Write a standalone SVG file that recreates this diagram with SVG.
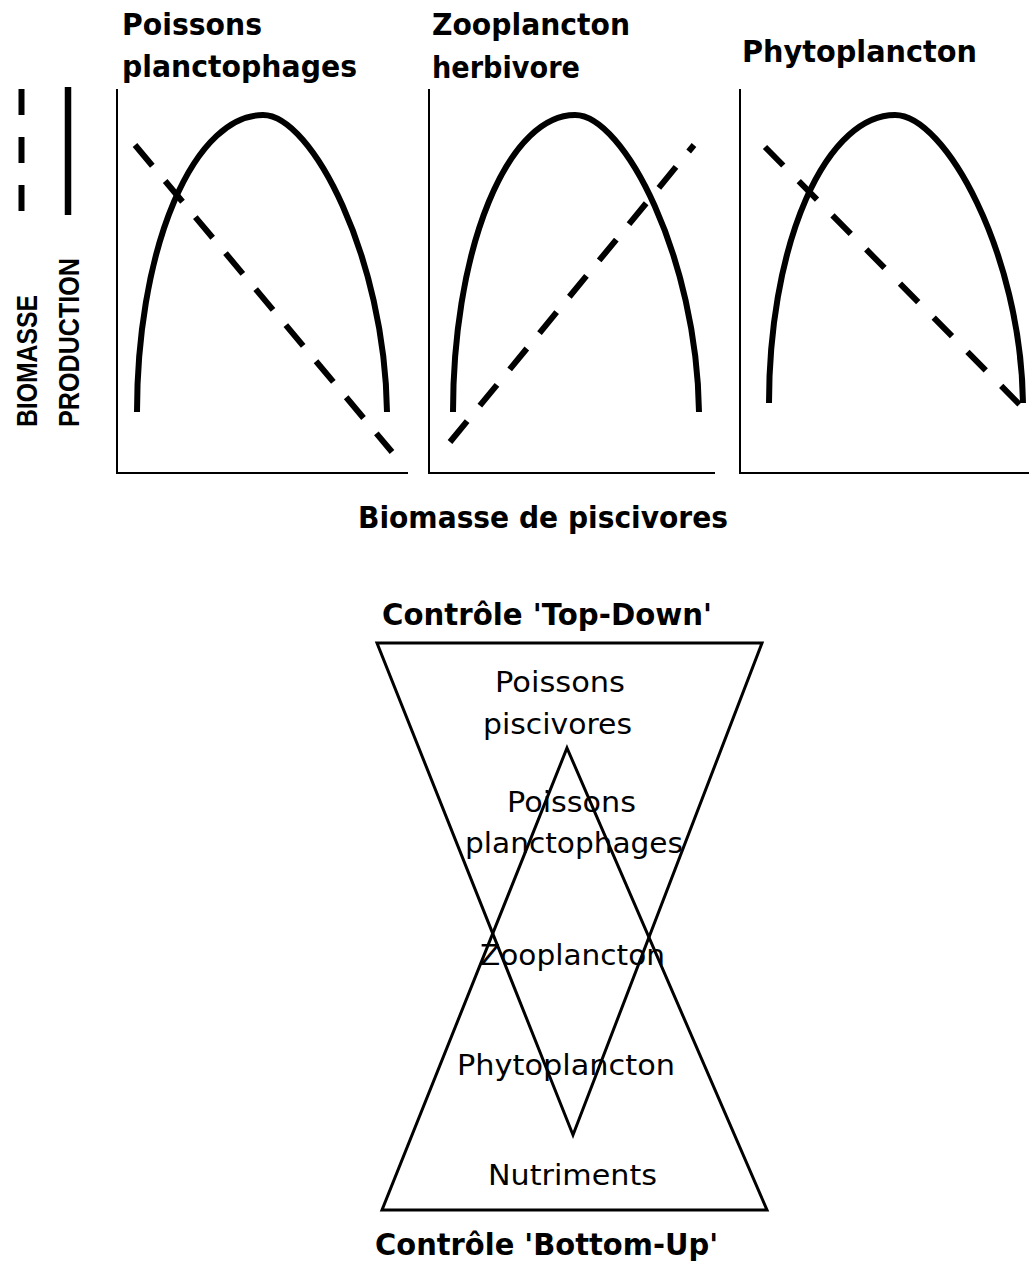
<svg xmlns="http://www.w3.org/2000/svg" width="1029" height="1264" viewBox="0 0 1029 1264">
  <style>
    .title { font-family: "DejaVu Sans", "Liberation Sans", sans-serif; font-weight: bold; font-size: 30.5px; fill: #000; }
    .axislbl { font-family: "Liberation Sans", "DejaVu Sans", sans-serif; font-weight: bold; font-size: 30px; fill: #000; }
    .level { font-family: "DejaVu Sans", "Liberation Sans", sans-serif; font-size: 29px; fill: #000; }
    .axis { fill: none; stroke: #000; stroke-width: 2; }
    .prod { fill: none; stroke: #000; stroke-width: 6; stroke-linecap: butt; }
    .bio { fill: none; stroke: #000; stroke-width: 6; stroke-dasharray: 27 20; }
    .tri { fill: none; stroke: #000; stroke-width: 3; stroke-linejoin: miter; }
  </style>
  <rect width="1029" height="1264" fill="#fff"/>

  <!-- legend: dashed = biomass, solid = production -->
  <g id="legend">
    <line x1="21.5" y1="89" x2="21.5" y2="211" stroke="#000" stroke-width="6" stroke-dasharray="26 22"/>
    <line x1="68" y1="87" x2="68" y2="215" stroke="#000" stroke-width="6.5"/>
    <text class="axislbl" transform="translate(37,427) rotate(-90)" textLength="132" lengthAdjust="spacingAndGlyphs">BIOMASSE</text>
    <text class="axislbl" transform="translate(79,427) rotate(-90)" textLength="169" lengthAdjust="spacingAndGlyphs">PRODUCTION</text>
  </g>

  <!-- panel 1: planktivorous fish -->
  <g id="panel-planctophages">
    <text class="title" x="122" y="35" textLength="140" lengthAdjust="spacingAndGlyphs">Poissons</text>
    <text class="title" x="122" y="77" textLength="235" lengthAdjust="spacingAndGlyphs">planctophages</text>
    <polyline class="axis" points="117,89 117,473 408,473"/>
    <path class="prod" d="M137,412 A126,297 0 0 1 263,115 C312,115 385,258 387,412"/>
    <line class="bio" x1="135" y1="145" x2="392" y2="452"/>
  </g>

  <!-- panel 2: herbivorous zooplankton -->
  <g id="panel-zooplancton">
    <text class="title" x="432" y="35" textLength="198" lengthAdjust="spacingAndGlyphs">Zooplancton</text>
    <text class="title" x="432" y="78" textLength="148" lengthAdjust="spacingAndGlyphs">herbivore</text>
    <polyline class="axis" points="429,89 429,473 715,473"/>
    <path class="prod" d="M453,412 A122,297 0 0 1 575,115 C624,115 697,258 699,412"/>
    <line class="bio" x1="450" y1="442" x2="694" y2="145"/>
  </g>

  <!-- panel 3: phytoplankton -->
  <g id="panel-phytoplancton">
    <text class="title" x="742" y="62" textLength="235" lengthAdjust="spacingAndGlyphs">Phytoplancton</text>
    <polyline class="axis" points="740,89 740,473 1029,473"/>
    <path class="prod" d="M769,403 A126,288 0 0 1 895,115 C945,115 1021,253 1023,403"/>
    <line class="bio" x1="765" y1="147" x2="1020" y2="405" style="stroke-dasharray:26 22"/>
  </g>

  <text id="x-label" class="title" x="358" y="528" textLength="370" lengthAdjust="spacingAndGlyphs">Biomasse de piscivores</text>

  <!-- trophic cascade: inverted top-down triangle and upright bottom-up triangle -->
  <g id="top-down">
    <text class="title" x="382" y="625" textLength="330" lengthAdjust="spacingAndGlyphs">Contrôle 'Top-Down'</text>
    <polygon class="tri" points="377,643 762,643 573,1135"/>
  </g>
  <g id="bottom-up">
    <polygon class="tri" points="567,748 767,1210 382,1210"/>
    <text class="title" x="375" y="1255" textLength="343" lengthAdjust="spacingAndGlyphs">Contrôle 'Bottom-Up'</text>
  </g>

  <g id="levels">
    <text class="level" x="495" y="692" textLength="130" lengthAdjust="spacingAndGlyphs">Poissons</text>
    <text class="level" x="483" y="734" textLength="149" lengthAdjust="spacingAndGlyphs">piscivores</text>
    <text class="level" x="507" y="812" textLength="129" lengthAdjust="spacingAndGlyphs">Poissons</text>
    <text class="level" x="465" y="853" textLength="218" lengthAdjust="spacingAndGlyphs">planctophages</text>
    <text class="level" x="480" y="965" textLength="185" lengthAdjust="spacingAndGlyphs">Zooplancton</text>
    <text class="level" x="457" y="1075" textLength="218" lengthAdjust="spacingAndGlyphs">Phytoplancton</text>
    <text class="level" x="488" y="1185" textLength="169" lengthAdjust="spacingAndGlyphs">Nutriments</text>
  </g>
</svg>
